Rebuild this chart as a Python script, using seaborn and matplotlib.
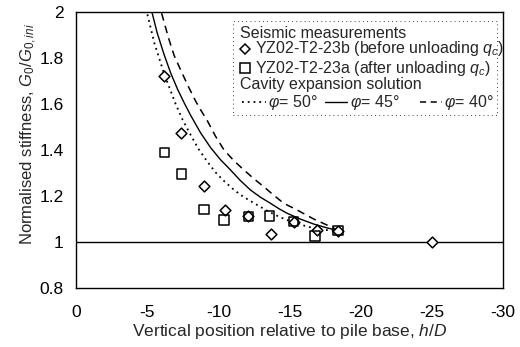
import numpy as np
import pandas as pd
import matplotlib
matplotlib.use("Agg")
import matplotlib.pyplot as plt
import seaborn as sns

# seismic measurements (h/D, G0/G0,ini)
before_h = [-6.2, -7.4, -9.0, -10.5, -12.1, -13.7, -15.3, -16.9, -18.4, -25.0]
before_g = [1.72, 1.475, 1.245, 1.14, 1.112, 1.033, 1.088, 1.052, 1.05, 1.0]
after_h = [-6.2, -7.4, -9.0, -10.4, -12.1, -13.6, -15.3, -16.8, -18.4]
after_g = [1.388, 1.296, 1.142, 1.096, 1.112, 1.113, 1.088, 1.026, 1.05]

# cavity expansion solution curves
phi50_h = [-4.9, -5.5, -6.2, -7.0, -7.5, -8.06, -8.6, -9.23, -9.8, -10.4, -11.0, -11.56,
           -12.2, -12.73, -13.4, -14.13, -14.8, -15.5, -16.1, -16.7, -17.6, -18.5]
phi50_g = [2.02, 1.866, 1.73, 1.60, 1.53, 1.465, 1.405, 1.349, 1.303, 1.265, 1.232, 1.205,
           1.18, 1.161, 1.137, 1.114, 1.096, 1.081, 1.07, 1.06, 1.052, 1.048]
phi45_h = [-5.25, -5.7, -6.19, -6.65, -7.13, -7.6, -8.06, -8.75, -9.46, -10.15, -10.86, -11.55,
           -12.26, -12.95, -13.67, -14.25, -14.83, -15.75, -16.7, -17.6, -18.5]
phi45_g = [2.02, 1.91, 1.815, 1.735, 1.665, 1.605, 1.55, 1.475, 1.41, 1.358, 1.313, 1.267,
           1.226, 1.195, 1.168, 1.145, 1.125, 1.1, 1.078, 1.062, 1.048]
phi40_h = [-5.9, -6.5, -6.9, -7.36, -7.9, -8.41, -8.8, -9.23, -9.8, -10.4, -11.1, -11.8,
           -12.5, -13.2, -13.9, -14.6, -15.54, -16.7, -17.87, -18.5]
phi40_g = [2.02, 1.887, 1.81, 1.747, 1.675, 1.612, 1.57, 1.527, 1.46, 1.40, 1.353, 1.313,
           1.275, 1.24, 1.203, 1.168, 1.139, 1.1, 1.067, 1.048]

xticks = [0, -5, -10, -15, -20, -25, -30]
yticks = [0.8, 1.0, 1.2, 1.4, 1.6, 1.8, 2.0]
ylabels = ["0.8", "1", "1.2", "1.4", "1.6", "1.8", "2"]

sns.set_style("white")
plt.rcParams['font.family'] = ['Liberation Sans', 'DejaVu Sans']
plt.rcParams['mathtext.fontset'] = 'custom'
plt.rcParams['mathtext.rm'] = 'Liberation Sans'
plt.rcParams['mathtext.it'] = 'Liberation Sans:italic'

fig = plt.figure(figsize=(5.2, 3.47), dpi=100)
ax = fig.add_axes([76/520, 1-288/347, 427/520, 276/347])

sns.lineplot(x=phi50_h, y=phi50_g, ax=ax, color='k', lw=1.3, linestyle=(0, (1, 2.2)))
sns.lineplot(x=phi45_h, y=phi45_g, ax=ax, color='k', lw=1.0)
sns.lineplot(x=phi40_h, y=phi40_g, ax=ax, color='k', lw=1.1, linestyle=(0, (5, 3.5)))

sns.scatterplot(x=before_h, y=before_g, ax=ax, marker='D', s=30,
                facecolors='white', edgecolors='k', linewidths=1.1, zorder=4)
sns.scatterplot(x=after_h, y=after_g, ax=ax, marker='s', s=46,
                facecolors='none', edgecolors='k', linewidths=1.1, zorder=4)

ax.axhline(1.0, color='k', lw=1.0, zorder=1)

ax.set_xlim(0, -30)
ax.set_ylim(0.8, 2.0)
ax.set_xticks(xticks)
ax.set_xticklabels([str(t) for t in xticks])
ax.set_yticks(yticks)
ax.set_yticklabels(ylabels)
ax.tick_params(length=0, labelsize=12.5, colors='k')
ax.tick_params(axis='x', pad=12)
ax.tick_params(axis='y', pad=9)
for s in ax.spines.values():
    s.set_color('k')
    s.set_linewidth(1.0)

ax.set_xlabel("Vertical position relative to pile base, $h/D$", fontsize=12.5)
ax.set_ylabel("Normalised stiffness, $G_0/G_{0,ini}$", fontsize=12)
ax.xaxis.set_label_coords(0.5, -0.123)
ax.yaxis.set_label_coords(-0.087, 0.558)

# legend box drawn by hand
def fx(px):
    return (px - 76) / 427

def fy(py):
    return (288 - py) / 276

tr = ax.transAxes
ax.add_patch(plt.Rectangle((fx(233), fy(115)), fx(497) - fx(233), fy(21) - fy(115),
                           transform=tr, fill=True, facecolor='white', edgecolor='k',
                           lw=0.6, linestyle=(0, (1, 4)), zorder=5))
fs = 11.5
ax.text(fx(240), fy(33), "Seismic measurements", transform=tr, fontsize=fs, va='center', zorder=6)
ax.plot([fx(245)], [fy(49)], marker='D', ms=5.2, mfc='white', mec='k', mew=1.1, transform=tr, zorder=6)
ax.text(fx(255), fy(49), "YZ02-T2-23b (before unloading $q_c$)", transform=tr, fontsize=fs, va='center', zorder=6)
ax.plot([fx(245)], [fy(68)], marker='s', ms=6.5, mfc='none', mec='k', mew=1.1, transform=tr, zorder=6)
ax.text(fx(255), fy(68), "YZ02-T2-23a (after unloading $q_c$)", transform=tr, fontsize=fs, va='center', zorder=6)
ax.text(fx(240), fy(85), "Cavity expansion solution", transform=tr, fontsize=fs, va='center', zorder=6)
ax.plot([fx(242), fx(266)], [fy(102), fy(102)], color='k', lw=1.3, linestyle=(0, (1, 2.2)), transform=tr, zorder=6)
ax.text(fx(268), fy(102), "$φ$= 50°", transform=tr, fontsize=fs, va='center', zorder=6)
ax.plot([fx(325), fx(347)], [fy(102), fy(102)], color='k', lw=1.0, transform=tr, zorder=6)
ax.text(fx(350), fy(102), "$φ$= 45°", transform=tr, fontsize=fs, va='center', zorder=6)
ax.plot([fx(420), fx(442)], [fy(102), fy(102)], color='k', lw=1.1, linestyle=(0, (4, 3)), transform=tr, zorder=6)
ax.text(fx(444), fy(102), "$φ$= 40°", transform=tr, fontsize=fs, va='center', zorder=6)

fig.savefig("out.png", dpi=100)
